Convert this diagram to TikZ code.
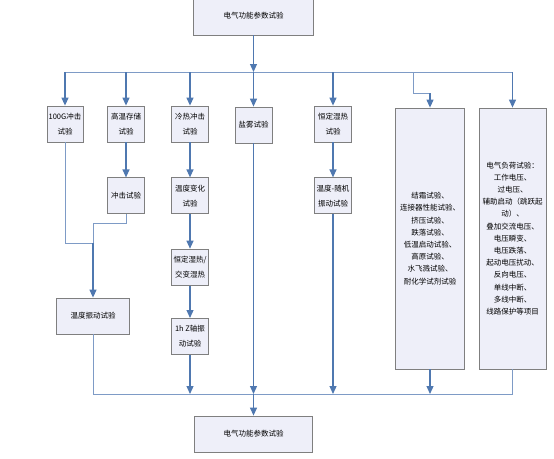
\documentclass[tikz,border=0pt]{standalone}
\usepackage{fontspec}
\newfontfamily\cjk{Noto Sans CJK SC}
\usepackage{tikz}
\usetikzlibrary{positioning, arrows.meta}
\definecolor{boxfill}{HTML}{EEEFF9}
\definecolor{boxline}{HTML}{7F7F7F}
\definecolor{arrblue}{HTML}{4F78B0}
\definecolor{lnblue}{HTML}{7E9BC6}

\begin{document}
\begin{tikzpicture}[x=1pt, y=-1pt, font=\cjk\fontsize{7.5}{15}\selectfont,
    box/.style={draw=boxline, fill=boxfill, line width=0.8pt, align=center, inner sep=1pt,
      minimum width=37pt, minimum height=36pt},
    tallbox/.style={box, minimum height=261pt, font=\cjk\fontsize{7.5}{12.2}\selectfont},
    arr/.style={draw=arrblue, line width=1.2pt, -{Triangle[length=8pt, width=7pt]}},
    ln/.style={draw=lnblue, line width=0.9pt}]
  \useasboundingbox (0,0) rectangle (554,458);

  % top row
  \node[box, minimum width=120pt, minimum height=38pt] (top) at (253.5,16) {电气功能参数试验};
  \node[box, minimum width=36pt] (b1) at (65,124) {100G冲击\\试验};
  \node[box] (b2) at (126,124) {高温存储\\试验};
  \node[box] (b3) at (190,124) {冷热冲击\\试验};
  \node[box] (b4) at (253.5,125) {盐雾试验};
  \node[box] (b5) at (333,124) {恒定湿热\\试验};
  \node[tallbox, minimum width=69pt] (b6) at (430,238.5)
    {结霜试验、\\连接器性能试验、\\挤压试验、\\跌落试验、\\低温启动试验、\\高原试验、\\水飞溅试验、\\耐化学试剂试验};
  \node[tallbox, minimum width=67pt] (b7) at (512.5,238.5)
    {电气负荷试验：\\工作电压、\\过电压、\\辅助启动（跳跃起\\动）、\\叠加交流电压、\\电压瞬变、\\电压跌落、\\起动电压扰动、\\反向电压、\\单线中断、\\多线中断、\\线路保护等项目};

  % follow-up tests
  \node[box, below=35pt of b2] (c2) {冲击试验};
  \node[box, below=35pt of b3] (c3) {温度变化\\试验};
  \node[box, below=34.5pt of c3] (d3) {恒定湿热/\\交变湿热};
  \node[box, below=32.5pt of d3] (e3) {1h Z轴振\\动试验};
  \node[box, below=35pt of b5] (c5) {温度-随机\\振动试验};
  \node[box, minimum width=73pt] (vib) at (93,316) {温度振动试验};
  \node[box, minimum width=118pt] (bottom) at (253.5,434) {电气功能参数试验};

  % fan out
  \coordinate (hub) at (253.5,72);
  \coordinate (jog) at (413,72);
  \coordinate (jogend) at (430,93);
  \draw[arr] (top) -- (hub);
  \draw[ln] (b1 |- hub) -- (b7 |- hub);
  \foreach \n in {b1,b2,b3,b4,b5,b7}
    \draw[arr] (\n |- hub) -- (\n);
  \draw[ln] (jog) |- (jogend);
  \draw[arr] (jogend) -- (b6);

  \draw[arr] (b2) -- (c2);
  \draw[arr] (b3) -- (c3);
  \draw[arr] (c3) -- (d3);
  \draw[arr] (d3) -- (e3);
  \draw[arr] (b5) -- (c5);

  \coordinate (meet) at (93,243);
  \draw[ln] (b1) |- (meet);
  \draw[ln] (c2.south) -- ++(0,9) -| (meet);
  \draw[arr] (meet) -- (vib);

  % collect
  \coordinate (bh) at (253.5,394);
  \draw[ln] (vib) |- (b7 |- bh) -- (b7);
  \foreach \n in {e3,b4,c5,b6}
    \draw[arr] (\n) -- (\n |- bh);
  \draw[arr] (bh) -- (bottom);
\end{tikzpicture}
\end{document}
